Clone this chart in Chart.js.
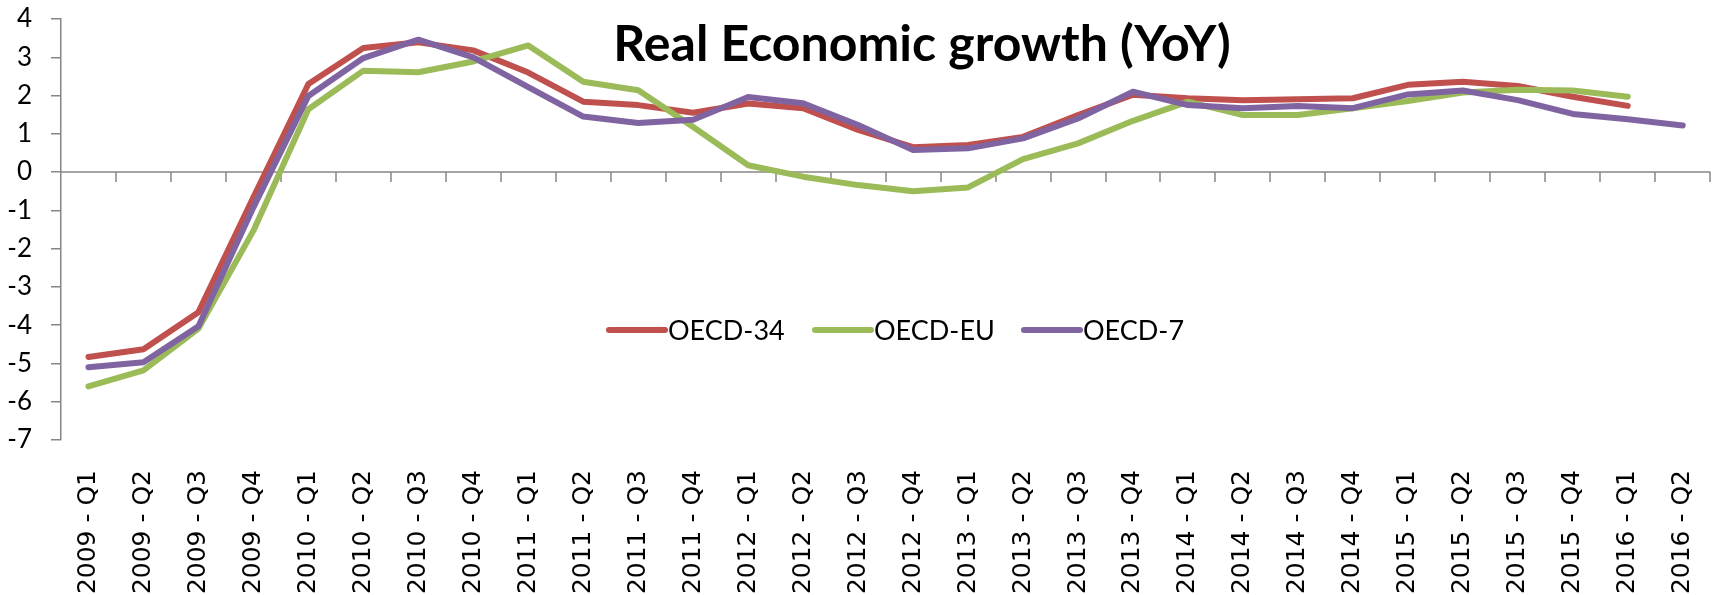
<!DOCTYPE html>
<html>
<head>
<meta charset="utf-8">
<script src="https://cdn.jsdelivr.net/npm/chart.js@4.4.1/dist/chart.umd.min.js"></script>
<style>
  html, body { margin: 0; padding: 0; background: #fff; }
  #wrap { width: 1735px; height: 595px; }
</style>
</head>
<body>
<div id="wrap"><canvas id="growth" width="1735" height="595"></canvas></div>
<script>
const quarters = [
    '2009 - Q1', '2009 - Q2', '2009 - Q3', '2009 - Q4',
    '2010 - Q1', '2010 - Q2', '2010 - Q3', '2010 - Q4',
    '2011 - Q1', '2011 - Q2', '2011 - Q3', '2011 - Q4',
    '2012 - Q1', '2012 - Q2', '2012 - Q3', '2012 - Q4',
    '2013 - Q1', '2013 - Q2', '2013 - Q3', '2013 - Q4',
    '2014 - Q1', '2014 - Q2', '2014 - Q3', '2014 - Q4',
    '2015 - Q1', '2015 - Q2', '2015 - Q3', '2015 - Q4',
    '2016 - Q1', '2016 - Q2'
];

const oecd34 = [-4.83, -4.63, -3.66, -0.66, 2.30, 3.24, 3.39, 3.18, 2.60, 1.84,
                1.75, 1.55, 1.79, 1.67, 1.10, 0.65, 0.71, 0.92, 1.49, 2.02,
                1.93, 1.88, 1.90, 1.93, 2.28, 2.36, 2.25, 1.97, 1.73, null];

const oecdEU = [-5.60, -5.18, -4.09, -1.53, 1.64, 2.65, 2.61, 2.89, 3.31, 2.36,
                2.14, 1.18, 0.18, -0.12, -0.34, -0.50, -0.40, 0.34, 0.75, 1.34,
                1.84, 1.49, 1.49, 1.67, 1.86, 2.08, 2.15, 2.13, 1.97, null];

const oecd7 = [-5.10, -4.97, -4.03, -0.92, 1.99, 2.98, 3.46, 3.00, 2.22, 1.45,
               1.28, 1.37, 1.96, 1.80, 1.23, 0.58, 0.62, 0.88, 1.40, 2.10,
               1.75, 1.67, 1.73, 1.67, 2.03, 2.13, 1.88, 1.52, 1.38, 1.22];

const seriesNames = ['OECD-34', 'OECD-EU', 'OECD-7'];
const seriesColors = ['#C0504D', '#9BBB59', '#8064A2'];

const axisGray = '#868686';

// zero line with category ticks (Excel puts the axis at 0, labels stay low)
const zeroAxis = {
    id: 'zeroAxis',
    beforeDatasetsDraw(chart) {
        const ctx = chart.ctx;
        const x = chart.scales.x;
        const y0 = chart.scales.y.getPixelForValue(0);
        const area = chart.chartArea;
        const step = x.getPixelForValue(1) - x.getPixelForValue(0);
        ctx.save();
        ctx.strokeStyle = axisGray;
        ctx.lineWidth = 1.5;
        ctx.beginPath();
        ctx.moveTo(area.left, y0);
        ctx.lineTo(area.right, y0);
        for (var i = 0; i < quarters.length; i++) {
            var px = Math.round(x.getPixelForValue(i) + step / 2);
            ctx.moveTo(px, y0);
            ctx.lineTo(px, y0 + 10);
        }
        ctx.stroke();
        ctx.restore();
    }
};

// title and legend sit inside the plot area
const overlay = {
    id: 'overlay',
    afterDraw(chart) {
        const ctx = chart.ctx;
        ctx.save();
        ctx.fillStyle = '#000';
        ctx.font = 'bold 50px Lato';
        ctx.textAlign = 'center';
        ctx.textBaseline = 'alphabetic';
        ctx.fillText('Real Economic growth (YoY)', 922, 61);

        const legendX = [609, 815, 1024];
        const legendY = 330;
        ctx.font = '27px Lato';
        ctx.textAlign = 'left';
        ctx.textBaseline = 'middle';
        chart.data.datasets.forEach(function (ds, i) {
            ctx.strokeStyle = ds.borderColor;
            ctx.lineWidth = 6;
            ctx.lineCap = 'round';
            ctx.beginPath();
            ctx.moveTo(legendX[i], legendY);
            ctx.lineTo(legendX[i] + 56, legendY);
            ctx.stroke();
            ctx.fillText(ds.label, legendX[i] + 59, legendY + 1);
        });
        ctx.restore();
    }
};

const dataGrowth = {
    labels: quarters,
    datasets: [oecd34, oecdEU, oecd7].map(function (values, i) {
        return {
            label: seriesNames[i],
            data: values,
            borderColor: seriesColors[i],
            backgroundColor: seriesColors[i],
            borderWidth: 6,
            borderCapStyle: 'round',
            borderJoinStyle: 'round',
            pointRadius: 0,
            tension: 0,
            order: 3 - i
        };
    })
};

const configGrowth = {
    type: 'line',
    data: dataGrowth,
    plugins: [zeroAxis, overlay],
    options: {
        responsive: false,
        animation: false,
        devicePixelRatio: 1,
        layout: { padding: { top: 19, right: 16, left: 0, bottom: 0 } },
        plugins: {
            legend: { display: false },
            title: { display: false },
            tooltip: { enabled: false }
        },
        scales: {
            x: {
                type: 'category',
                offset: true,
                grid: { display: false },
                border: { display: false },
                ticks: {
                    autoSkip: false,
                    minRotation: 90,
                    maxRotation: 90,
                    padding: 22,
                    color: '#000',
                    font: { family: 'DejaVu Sans', size: 25 }
                },
                afterFit: function (scale) { scale.height = 155; }
            },
            y: {
                min: -7,
                max: 4,
                ticks: {
                    stepSize: 1,
                    padding: 19,
                    color: '#000',
                    font: { family: 'Lato', size: 26 }
                },
                grid: {
                    drawOnChartArea: false,
                    drawTicks: true,
                    tickLength: 10,
                    color: axisGray,
                    lineWidth: 1.5
                },
                border: { display: true, color: axisGray, width: 1.5 },
                afterFit: function (scale) {
                    scale.width = 61;
                    // tick padding would otherwise push the plot top down
                    scale.paddingTop = 0;
                    scale.paddingBottom = 0;
                }
            }
        }
    }
};

const myChartGrowth = new Chart(
    document.getElementById('growth'),
    configGrowth
);
</script>
</body>
</html>
